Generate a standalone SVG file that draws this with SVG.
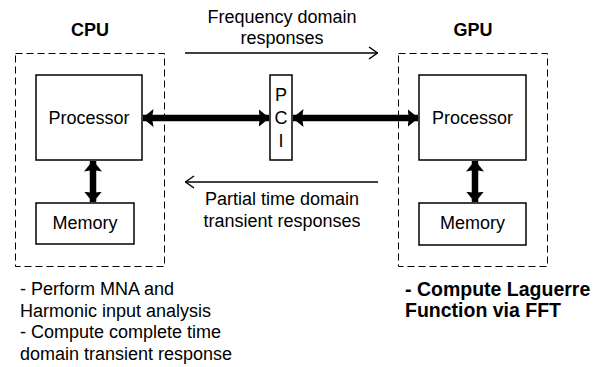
<svg xmlns="http://www.w3.org/2000/svg" width="602" height="367" viewBox="0 0 602 367">
<style>
text{font-family:"Liberation Sans",Arial,sans-serif;fill:#000}
.t{font-size:18px}
.b{font-size:18px;font-weight:bold}
.big{font-size:19.5px;font-weight:bold}
.box{fill:#fff;stroke:#000;stroke-width:1.5}
.dash{fill:none;stroke:#000;stroke-width:1;stroke-dasharray:7 4}
.thick{fill:none;stroke:#000;stroke-width:6.5}
.thin{fill:none;stroke:#000;stroke-width:1.5}
</style>
<defs>
<marker id="ah" viewBox="0 0 11 18" refX="10.5" refY="9" markerWidth="11" markerHeight="18" markerUnits="userSpaceOnUse" orient="auto-start-reverse">
<path d="M0,0 L11,9 L0,18 L1.5,9 Z" fill="#000"/>
</marker>
<marker id="oh" viewBox="0 0 10 14" refX="10" refY="7" markerWidth="10" markerHeight="14" markerUnits="userSpaceOnUse" orient="auto">
<path d="M1,1 L9.5,7 L1,13" fill="none" stroke="#000" stroke-width="1.5"/>
</marker>
</defs>
<g id="cpu">
<rect class="dash" x="15.5" y="53.5" width="149" height="213"/>
<text class="b" x="90" y="36" text-anchor="middle">CPU</text>
</g>
<g id="cpu-processor">
<rect class="box" x="36" y="75" width="106" height="85"/>
<text class="t" x="89" y="124" text-anchor="middle">Processor</text>
</g>
<g id="cpu-memory">
<rect class="box" x="36" y="203" width="98" height="41"/>
<text class="t" x="85" y="229" text-anchor="middle">Memory</text>
</g>
<g id="pci">
<rect class="box" x="270" y="75" width="22" height="85"/>
<text class="t" x="281" y="101" text-anchor="middle">P</text>
<text class="t" x="281" y="124" text-anchor="middle">C</text>
<text class="t" x="281" y="147" text-anchor="middle">I</text>
</g>
<g id="gpu">
<rect class="dash" x="398.5" y="53.5" width="149" height="213"/>
<text class="b" x="473" y="36" text-anchor="middle">GPU</text>
</g>
<g id="gpu-processor">
<rect class="box" x="419" y="75" width="107" height="85"/>
<text class="t" x="472.5" y="124" text-anchor="middle">Processor</text>
</g>
<g id="gpu-memory">
<rect class="box" x="419" y="203" width="107" height="42"/>
<text class="t" x="472.5" y="229" text-anchor="middle">Memory</text>
</g>
<g id="connectors">
<line class="thick" x1="143" y1="118" x2="269" y2="118" marker-start="url(#ah)" marker-end="url(#ah)"/>
<line class="thick" x1="293" y1="118" x2="418" y2="118" marker-start="url(#ah)" marker-end="url(#ah)"/>
<line class="thick" x1="93" y1="161" x2="93" y2="202" marker-start="url(#ah)" marker-end="url(#ah)"/>
<line class="thick" x1="475" y1="161" x2="475" y2="202" marker-start="url(#ah)" marker-end="url(#ah)"/>
<line class="thin" x1="185" y1="53" x2="378" y2="53" marker-end="url(#oh)"/>
<line class="thin" x1="378" y1="182" x2="185" y2="182" marker-end="url(#oh)"/>
</g>
<g id="labels">
<text class="t" x="282" y="23" text-anchor="middle">Frequency domain</text>
<text class="t" x="282" y="44" text-anchor="middle">responses</text>
<text class="t" x="282" y="205" text-anchor="middle">Partial time domain</text>
<text class="t" x="282" y="227" text-anchor="middle">transient responses</text>
<text class="t" x="20" y="295">- Perform MNA and</text>
<text class="t" x="20" y="316.5">Harmonic input analysis</text>
<text class="t" x="20" y="338">- Compute complete time</text>
<text class="t" x="20" y="359.5">domain transient response</text>
<text class="big" x="405" y="296">- Compute Laguerre</text>
<text class="big" x="405" y="317">Function via FFT</text>
</g>
</svg>
